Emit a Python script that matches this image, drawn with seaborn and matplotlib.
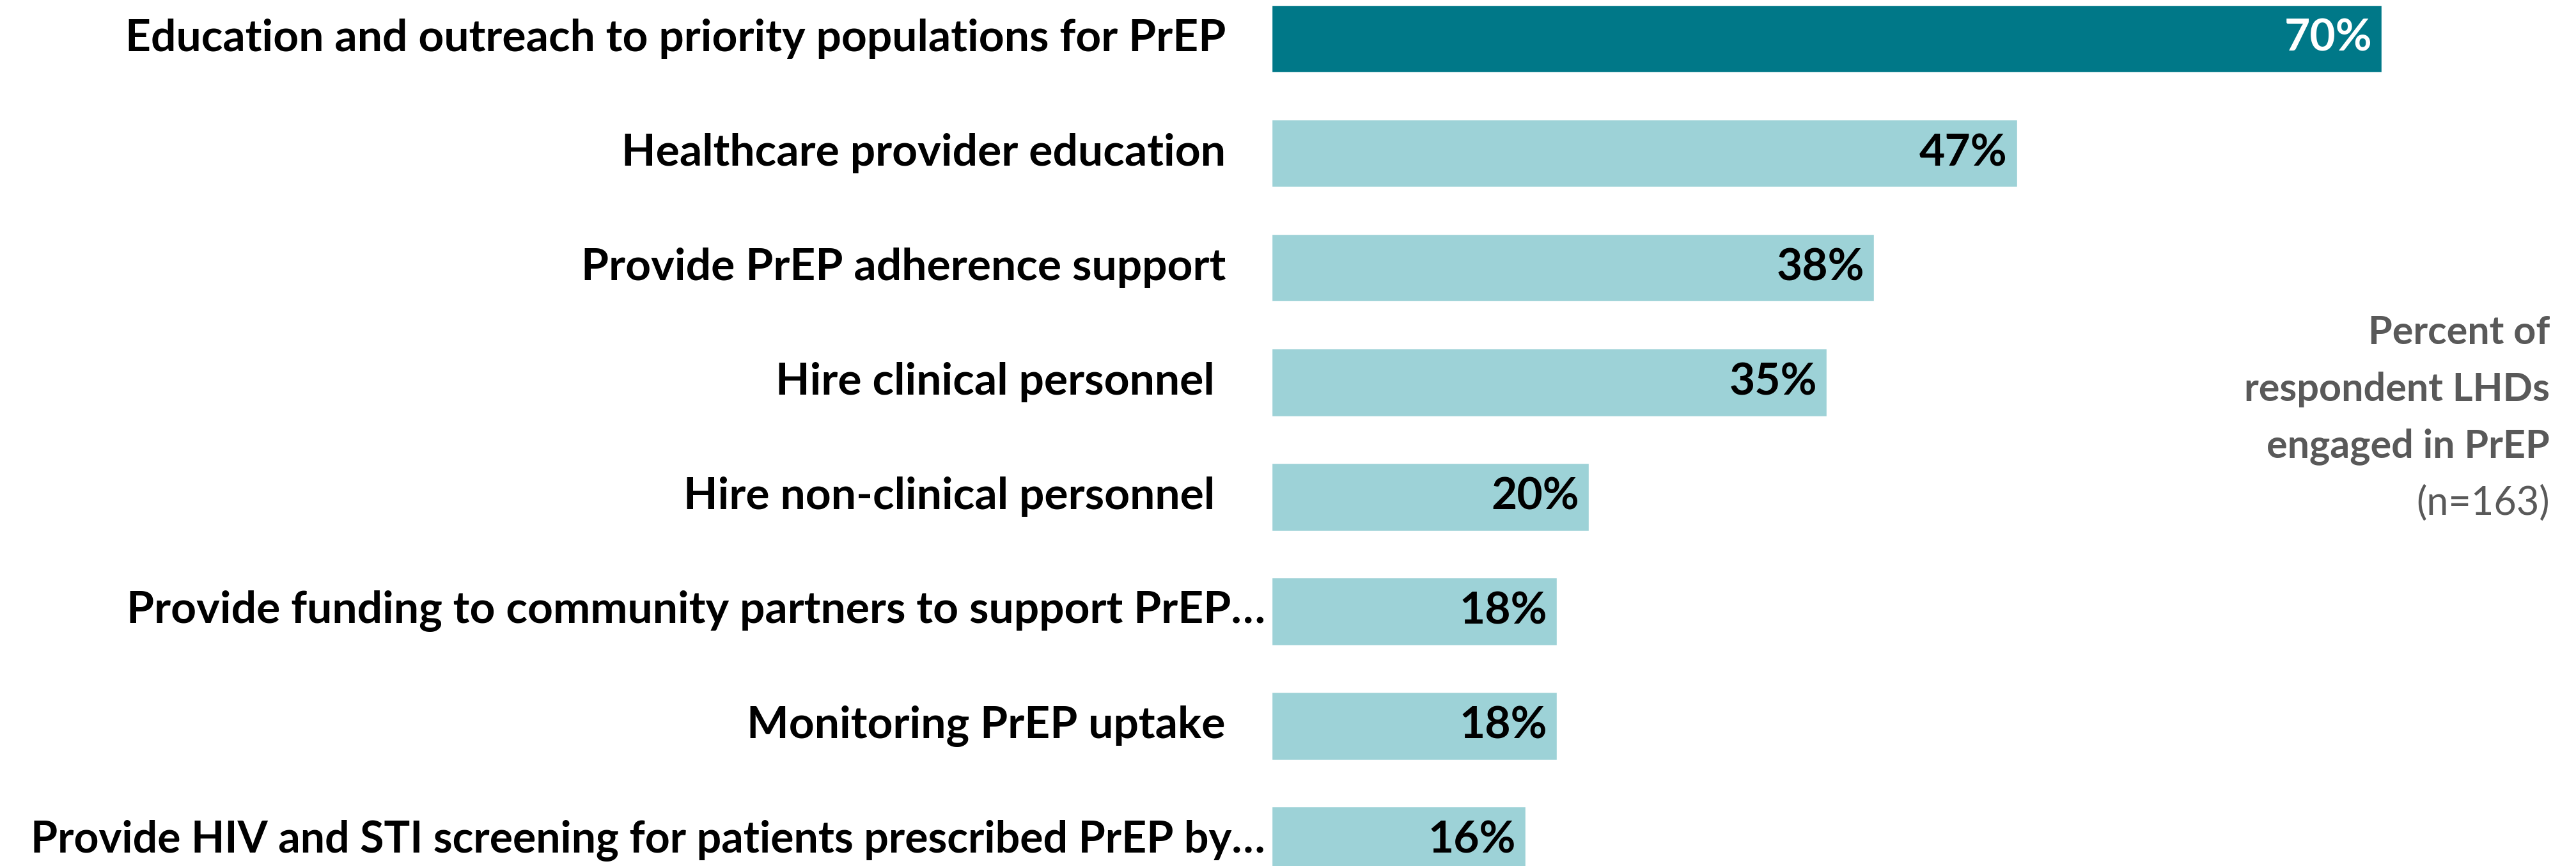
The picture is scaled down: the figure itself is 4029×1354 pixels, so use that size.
import matplotlib
matplotlib.use("Agg")
import matplotlib.pyplot as plt
import seaborn as sns
import pandas as pd

# data
activities = [
    "Education and outreach to priority populations for PrEP",
    "Healthcare provider education",
    "Provide PrEP adherence support",
    "Hire clinical personnel ",
    "Hire non-clinical personnel ",
    "Provide funding to community partners to support PrEP…",
    "Monitoring PrEP uptake",
    "Provide HIV and STI screening for patients prescribed PrEP by…",
]
percents = [70, 47, 38, 35, 20, 18, 18, 16]
note_lines = ["Percent of", "respondent LHDs", "engaged in PrEP", "(n=163)"]

dark_teal = "#007888"
light_teal = "#9DD2D7"
bar_colors = [dark_teal] + [light_teal] * (len(activities) - 1)

df = pd.DataFrame({"activity": activities, "percent": percents})

sns.set_style("white")
plt.rcParams["font.family"] = ["Lato", "DejaVu Sans"]

W, H, DPI = 4029, 1354, 100
fig = plt.figure(figsize=(W / DPI, H / DPI), dpi=DPI)

# axes spans from bar origin to right edge of figure
x0 = 1989
px_per_pct = 24.8
ax = fig.add_axes([x0 / W, 0, (W - x0) / W, 1])

sns.barplot(data=df, x="percent", y="activity", hue="activity",
            palette=bar_colors, legend=False, orient="h", width=0.59,
            saturation=1, ax=ax)

row_px = 179.1
top_px = 60.4
ax.set_ylim(7 + (H - top_px - 7 * row_px) / row_px, -top_px / row_px)
ax.set_xlim(0, (W - x0) / px_per_pct)
ax.axis("off")

fs = 50
for i, (name, val) in enumerate(zip(activities, percents)):
    # truncated labels run closer to the bars
    gap = 10 if name.endswith("…") else 72
    size = fs - 1 if name.endswith("by…") else fs
    ax.text(-gap / px_per_pct, i, name, ha="right", va="center",
            fontsize=size, fontweight="bold", color="black")
    ax.text(val - 15 / px_per_pct, i, f"{val}%", ha="right", va="center",
            fontsize=fs, fontweight="bold",
            color="white" if i == 0 else "black")

# side note
note_x = 3988 / W
for j, line in enumerate(note_lines):
    y = 1 - (520 + j * 89) / H
    fig.text(note_x, y, line, ha="right", va="center", fontsize=44,
             fontweight="bold" if j < 3 else "normal", color="#595959")

fig.savefig("out.png", dpi=DPI)
